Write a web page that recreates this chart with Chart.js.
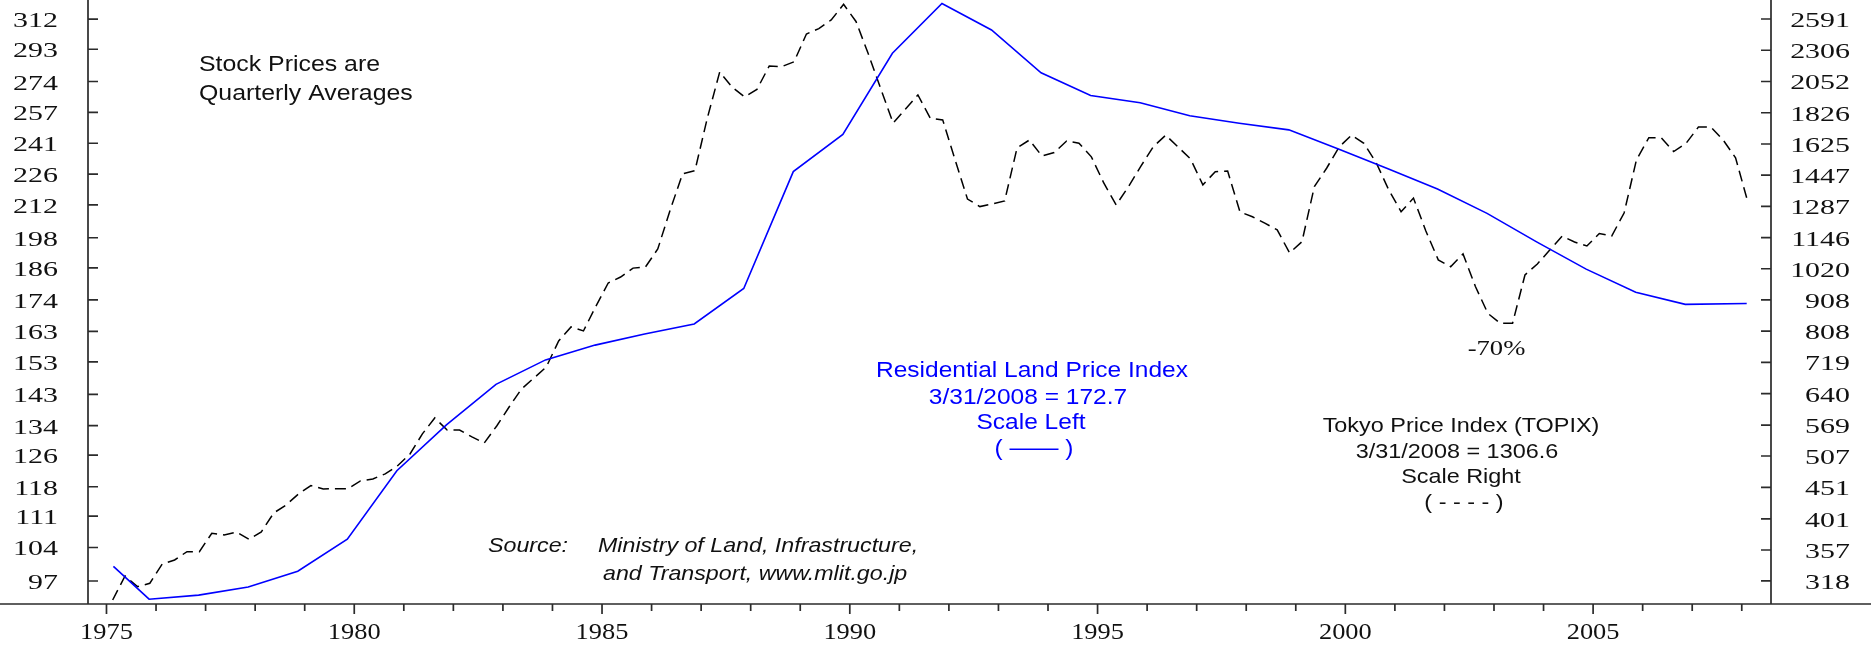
<!DOCTYPE html>
<html>
<head>
<meta charset="utf-8">
<style>
html,body{margin:0;padding:0;background:#fff;overflow:hidden}
canvas{display:block}
</style>
<script src="https://cdn.jsdelivr.net/npm/chart.js@4.4.1/dist/chart.umd.min.js"></script>
</head>
<body>
<canvas id="c" width="1871" height="649"></canvas>
<script>
// ---------- DATA ----------
// Residential Land Price Index (scale left), plotted at the dates shown on the chart
const landYears = [1975.14, 1975.86, 1976.86, 1977.86, 1978.86, 1979.86, 1980.86, 1981.86, 1982.86, 1983.86,
  1984.86, 1985.86, 1986.86, 1987.86, 1988.86, 1989.86, 1990.86, 1991.86, 1992.86, 1993.86,
  1994.86, 1995.86, 1996.86, 1997.86, 1998.86, 1999.86, 2000.86, 2001.86, 2002.86, 2003.86,
  2004.86, 2005.86, 2006.86, 2008.1];
const landIndex = [100.0, 93.4, 94.2, 95.8, 99.0, 105.8, 122.0, 134.2, 146.0, 153.6,
  158.4, 162.1, 165.5, 178.2, 227.2, 245.5, 290.6, 322.3, 305.0, 279.0,
  266.1, 262.2, 255.2, 251.2, 247.8, 238.1, 228.6, 219.1, 208.3, 196.3,
  185.5, 176.8, 172.4, 172.7];

// TOPIX quarterly averages (scale right), first quarter = 1975 Q1
const topixFirstQuarter = 1975.125;
const topixValues = [
  296.2, 324.0, 311.3, 315.3, 338.8, 343.9, 354.8, 354.8,   // 1975-76
  380.0, 377.6, 381.8, 371.6, 382.0, 409.9, 422.3, 440.1,   // 1977-78
  453.9, 448.3, 448.8, 448.8, 461.9, 465.4, 474.2, 489.0,   // 1979-80
  510.9, 550.6, 584.4, 558.6, 558.6, 544.4, 532.4, 567.2,   // 1981-82
  608.8, 651.2, 678.3, 706.8, 779.0, 820.7, 808.6, 886.3,   // 1983-84
  967.3, 989.1, 1022.4, 1026.2, 1098.1, 1270.0, 1453.3, 1471.0, // 1985-86
  1790.0, 2126.1, 2009.2, 1937.5, 1991.6, 2174.2, 2168.7, 2208.8, // 1987-88
  2450.4, 2500.0, 2582.0, 2737.2, 2567.5, 2273.0, 1997.1, 1756.6, // 1989-90
  1851.0, 1951.2, 1789.4, 1778.0, 1531.8, 1323.2, 1286.3, 1299.0, // 1991-92
  1313.7, 1600.8, 1649.5, 1554.4, 1573.8, 1643.4, 1629.4, 1549.0, // 1993-94
  1404.9, 1294.3, 1386.2, 1496.2, 1608.4, 1679.1, 1606.9, 1537.2, // 1995-96
  1395.1, 1465.3, 1469.0, 1260.6, 1238.6, 1209.0, 1179.5, 1081.8, // 1997-98
  1128.3, 1386.2, 1485.7, 1606.9, 1679.1, 1629.4, 1514.3, 1369.6, // 1999-2000
  1261.8, 1328.0, 1174.6, 1054.3, 1027.8, 1077.9, 954.6, 863.7,   // 2001-02
  832.2, 832.2, 996.6, 1038.3, 1093.6, 1152.4, 1127.2, 1110.5,    // 2003-04
  1163.4, 1152.4, 1255.8, 1531.8, 1663.6, 1663.6, 1579.9, 1628.4, // 2005-06
  1730.9, 1730.9, 1649.5, 1543.0, 1306.6                          // 2007-08Q1
];

// Tick labels
const leftTicks = [97, 104, 111, 118, 126, 134, 143, 153, 163, 174, 186, 198, 212, 226, 241, 257, 274, 293, 312];
const rightTicks = [318, 357, 401, 451, 507, 569, 640, 719, 808, 908, 1020, 1146, 1287, 1447, 1625, 1826, 2052, 2306, 2591];
const yearTicks = [1975, 1976, 1977, 1978, 1979, 1980, 1981, 1982, 1983, 1984, 1985, 1986, 1987, 1988, 1989,
  1990, 1991, 1992, 1993, 1994, 1995, 1996, 1997, 1998, 1999, 2000, 2001, 2002, 2003, 2004, 2005, 2006, 2007, 2008];
const yearLabels = [1975, 1980, 1985, 1990, 1995, 2000, 2005];

// ---------- BUILD ----------
const landData = landYears.map((x, i) => ({x: x, y: landIndex[i]}));
const topixData = topixValues.map((v, i) => ({x: topixFirstQuarter + i * 0.25, y: v}));

function stretchText(ctx, txt, x, y, font, color, align, sx) {
  ctx.save();
  ctx.font = font;
  ctx.fillStyle = color;
  ctx.textAlign = align;
  ctx.textBaseline = 'alphabetic';
  ctx.translate(x, y);
  ctx.scale(sx, 1);
  ctx.fillText(txt, 0, 0);
  ctx.restore();
}

const decor = {
  id: 'decor',
  afterDatasetsDraw(chart) {
    const ctx = chart.ctx, a = chart.chartArea, s = chart.scales;
    const W = chart.width;
    ctx.save();
    ctx.strokeStyle = '#2b2b2b';
    ctx.lineWidth = 1.7;
    ctx.beginPath();
    ctx.moveTo(a.left, 0); ctx.lineTo(a.left, a.bottom);
    ctx.moveTo(a.right, 0); ctx.lineTo(a.right, a.bottom);
    ctx.moveTo(0, a.bottom); ctx.lineTo(W, a.bottom);
    leftTicks.forEach(v => {
      const y = s.yL.getPixelForValue(v);
      ctx.moveTo(a.left, y); ctx.lineTo(a.left + 10, y);
    });
    rightTicks.forEach(v => {
      const y = s.yR.getPixelForValue(v);
      ctx.moveTo(a.right, y); ctx.lineTo(a.right - 10, y);
    });
    yearTicks.forEach(v => {
      const x = s.x.getPixelForValue(v);
      const len = (v % 5 === 0) ? 10 : 7;
      ctx.moveTo(x, a.bottom); ctx.lineTo(x, a.bottom + len);
    });
    ctx.stroke();
    ctx.restore();

    const serifY = "20.5px 'Liberation Serif'";
    leftTicks.forEach(v => {
      stretchText(ctx, String(v), 58, s.yL.getPixelForValue(v) + 8, serifY, '#111', 'right', 1.46);
    });
    rightTicks.forEach(v => {
      stretchText(ctx, String(v), 1850, s.yR.getPixelForValue(v) + 8, serifY, '#111', 'right', 1.46);
    });
    yearLabels.forEach(v => {
      stretchText(ctx, String(v), s.x.getPixelForValue(v), 638.5, "24px 'Liberation Serif'", '#111', 'center', 1.1);
    });

    const sans = "22px 'Liberation Sans'";
    stretchText(ctx, 'Stock Prices are', 199, 70.7, sans, '#111', 'left', 1.13);
    stretchText(ctx, 'Quarterly Averages', 199, 100, sans, '#111', 'left', 1.13);

    const sans2 = "21px 'Liberation Sans'";
    const sansR = "21.5px 'Liberation Sans'";
    const blue = '#0000ff';
    stretchText(ctx, 'Residential Land Price Index', 1032, 377, sansR, blue, 'center', 1.14);
    stretchText(ctx, '3/31/2008 = 172.7', 1028, 404, sansR, blue, 'center', 1.14);
    stretchText(ctx, 'Scale Left', 1031, 429, sansR, blue, 'center', 1.14);
    stretchText(ctx, '( —— )', 1034, 455, sansR, blue, 'center', 1.14);

    stretchText(ctx, 'Tokyo Price Index (TOPIX)', 1461, 432, sans2, '#111', 'center', 1.115);
    stretchText(ctx, '3/31/2008 = 1306.6', 1457, 458, sans2, '#111', 'center', 1.115);
    stretchText(ctx, 'Scale Right', 1461, 483, sans2, '#111', 'center', 1.115);
    stretchText(ctx, '( - - - - )', 1464, 509, sans2, '#111', 'center', 1.115);

    stretchText(ctx, '-70%', 1496.5, 355, "20px 'Liberation Serif'", '#111', 'center', 1.33);

    const ital = "italic 21px 'Liberation Sans'";
    stretchText(ctx, 'Source:', 488, 552, ital, '#111', 'left', 1.106);
    stretchText(ctx, 'Ministry of Land, Infrastructure,', 598, 552, ital, '#111', 'left', 1.106);
    stretchText(ctx, 'and Transport, www.mlit.go.jp', 603, 580, ital, '#111', 'left', 1.106);
  }
};

new Chart(document.getElementById('c'), {
  type: 'line',
  data: {
    datasets: [
      {
        label: 'Residential Land Price Index',
        data: landData,
        yAxisID: 'yL',
        borderColor: '#0000ff',
        borderWidth: 1.6,
        pointRadius: 0,
        tension: 0,
        fill: false
      },
      {
        label: 'Tokyo Price Index (TOPIX)',
        data: topixData,
        yAxisID: 'yR',
        borderColor: '#000000',
        borderWidth: 1.5,
        borderDash: [11, 6],
        pointRadius: 0,
        tension: 0,
        fill: false
      }
    ]
  },
  options: {
    responsive: false,
    animation: false,
    devicePixelRatio: 1,
    layout: {padding: {left: 88, right: 100, top: 0, bottom: 45}},
    plugins: {legend: {display: false}, tooltip: {enabled: false}},
    scales: {
      x: {type: 'linear', display: false, min: 1974.627, max: 2008.59},
      yL: {type: 'logarithmic', position: 'left', display: false, min: 92.47, max: 324.6},
      yR: {type: 'logarithmic', position: 'right', display: false, min: 291.8, max: 2781.6}
    }
  },
  plugins: [decor]
});
</script>
</body>
</html>
